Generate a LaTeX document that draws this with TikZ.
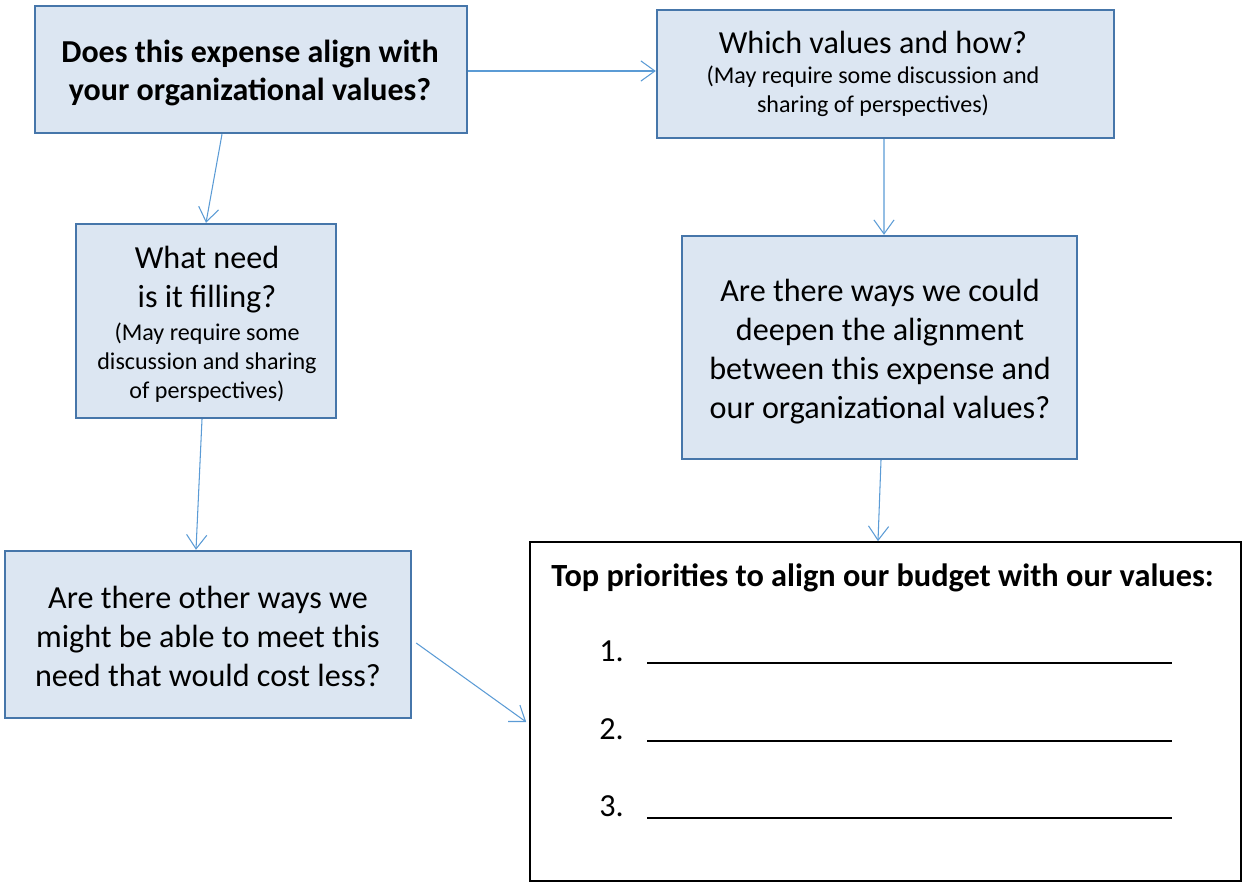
\documentclass[tikz,border=0pt]{standalone}
\usepackage{fontspec}
\setmainfont{Carlito}
\usepackage{xcolor}
\usetikzlibrary{arrows.meta, positioning}

\definecolor{qfill}{HTML}{DCE6F2}
\definecolor{qborder}{HTML}{4676AA}
\definecolor{qarrow}{HTML}{5B9BD5}
\newcommand{\notesize}{\fontsize{13.7}{16.5}\selectfont}
\newcommand{\asksize}{\fontsize{18.3}{22.2}\selectfont}

\begin{document}
\begin{tikzpicture}[x=0.02cm, y=-0.02cm,
    question/.style={rectangle, draw=qborder, line width=1.4pt, fill=qfill, align=center, inner sep=0pt, font=\asksize},
    plain/.style={align=center, inner sep=0pt, font=\asksize},
    arrow/.style={-{Straight Barb[length=8pt, width=11.5pt]}, draw=qarrow, line width=0.6pt}
]
\useasboundingbox (0,0) rectangle (1242,882);

% Question boxes
\node[question, minimum width=8.64cm, minimum height=2.54cm] (align) at (251,69.5) {};
\node[plain, font=\bfseries\fontsize{18.2}{21.8}\selectfont] (aligntext) at (250,73) {Does this expense align with\\your organizational values?};
\node[question, minimum width=9.14cm, minimum height=2.56cm] (which) at (885.5,74) {};
\node[plain] (whichtext) at (873,73.5) {Which values and how?\\[-5.1pt]\notesize(May require some discussion and\\[-5.7pt]\notesize sharing of perspectives)};
\node[question, minimum width=5.2cm, minimum height=3.88cm] (need) at (206,321) {};
\node[plain] (needtext) at (207,324) {What need\\is it filling?\\[-3.4pt]\notesize(May require some\\[-5.7pt]\notesize discussion and sharing\\[-5.7pt]\notesize of perspectives)};
\node[question, minimum width=7.9cm, minimum height=4.46cm] (deepen) at (879.5,347.5) {};
\node[plain] (deepentext) at (880,352) {Are there ways we could\\deepen the alignment\\between this expense and\\our organizational values?};
\node[question, minimum width=8.12cm, minimum height=3.34cm] (cheaper) at (208,634.5) {};
\node[plain] (cheapertext) at (208,636) {Are there other ways we\\might be able to meet this\\need that would cost less?};

% Priorities box
\node[rectangle, draw=black, line width=1pt, fill=white, minimum width=14.22cm, minimum height=6.78cm] (priorities) at (885.5,711.5) {};
\node[anchor=west, inner sep=0pt, font=\bfseries\fontsize{18.4}{22}\selectfont] (toptitle) at (551,578) {Top priorities to align our budget with our values:};
\foreach \n/\y in {1/651, 2/729, 3/806} {
  \node[anchor=west, inner sep=0pt, font=\asksize] (item\n) at (599,\y) {\n.};
  \draw[line width=0.8pt] (647,\y+12) -- (1172,\y+12);
}

% Connections
\draw[arrow] (align.east |- 0,71) -- (which.west |- 0,71);
\draw[arrow] ([xshift=-0.58cm]align.south) -- (need.north);
\draw[arrow] ([xshift=-0.08cm]need.south) -- ([xshift=-0.24cm]cheaper.north);
\draw[arrow] ([xshift=-0.03cm]which.south) -- ([xshift=0.09cm]deepen.north);
\draw[arrow] ([xshift=0.03cm]deepen.south) -- ([xshift=-0.15cm]priorities.north);
\draw[arrow] ([xshift=0.08cm, yshift=-0.17cm]cheaper.east) -- ([xshift=-0.06cm, yshift=-0.21cm]priorities.west);

\end{tikzpicture}
\end{document}
